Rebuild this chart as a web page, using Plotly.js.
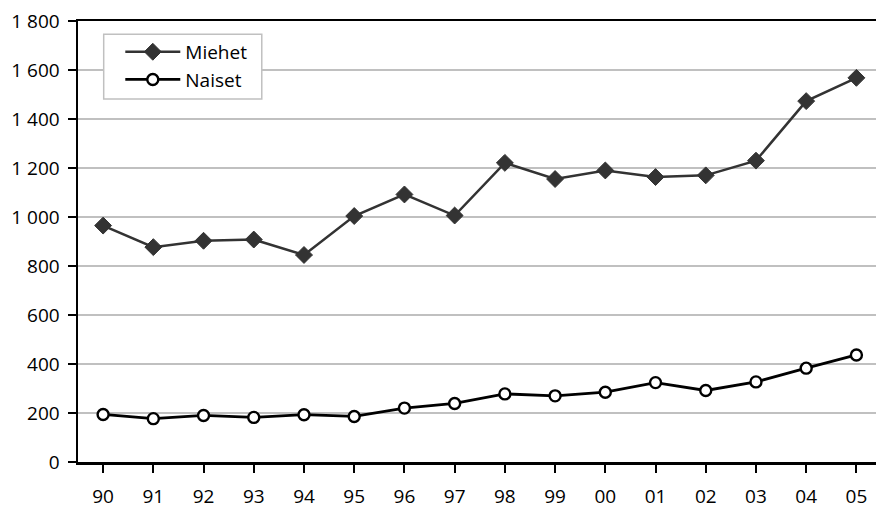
<!DOCTYPE html>
<html>
<head>
<meta charset="utf-8">
<script src="https://cdn.plot.ly/plotly-3.0.1.min.js"></script>
<style>
  html, body { margin: 0; padding: 0; background: #fff; }
  #chart { width: 876px; height: 508px; }
</style>
</head>
<body>
<div id="chart"></div>
<script>
const years = ["90","91","92","93","94","95","96","97","98","99","00","01","02","03","04","05"];
const miehet = [965, 877, 903, 908, 845, 1004, 1092, 1006, 1221, 1155, 1190, 1163, 1170, 1230, 1473, 1568];
const naiset = [194, 177, 190, 182, 193, 186, 220, 239, 278, 270, 285, 324, 292, 327, 383, 437];
const yTicks = [0, 200, 400, 600, 800, 1000, 1200, 1400, 1600, 1800];

const FONT = "Open Sans, Liberation Sans, sans-serif";
const FS = 19;
const xIdx = years.map((_, i) => i);

const traces = [
  {
    x: xIdx, y: miehet, name: "Miehet", type: "scatter", mode: "lines+markers",
    line: { color: "#333333", width: 2.5 },
    marker: { symbol: "diamond", size: 13, color: "#333333", line: { color: "#333333", width: 1 } }
  },
  {
    x: xIdx, y: naiset, name: "Naiset", type: "scatter", mode: "lines+markers",
    line: { color: "#000000", width: 2.8 },
    marker: { symbol: "circle", size: 11, color: "#ffffff", line: { color: "#000000", width: 2.4 } }
  }
];

const layout = {
  width: 876, height: 508,
  margin: { l: 78, r: 0, t: 21, b: 46, pad: 0 },
  paper_bgcolor: "#ffffff", plot_bgcolor: "#ffffff",
  separators: ", ",
  font: { family: FONT, size: FS, color: "#000000" },
  showlegend: true,
  legend: {
    x: 0.053, y: 0.973, xanchor: "left", yanchor: "top",
    bgcolor: "rgba(0,0,0,0)", borderwidth: 0,
    font: { family: FONT, size: FS, color: "#000000" },
    itemwidth: 55, tracegroupgap: 0
  },
  shapes: [{
    type: "rect", xref: "paper", yref: "paper", layer: "above",
    x0: 0.0322, x1: 0.2303, y0: 0.823, y1: 0.970,
    line: { color: "#c0c0c0", width: 1.5 }, fillcolor: "#ffffff"
  }],
  xaxis: {
    range: [-0.5, 15.39],
    tickmode: "array", tickvals: xIdx, ticktext: years,
    tickson: "boundaries",
    ticks: "outside", ticklen: 8, tickwidth: 2, tickcolor: "#000000",
    showline: true, linecolor: "#000000", linewidth: 2.5, mirror: true,
    showgrid: false, zeroline: false,
    ticklabelstandoff: 8,
    tickfont: { family: FONT, size: FS, color: "#000000" },
    fixedrange: true
  },
  yaxis: {
    range: [0, 1800],
    tickmode: "array", tickvals: yTicks, tickformat: ",d",
    ticks: "outside", ticklen: 8, tickwidth: 2, tickcolor: "#000000",
    showline: true, linecolor: "#000000", linewidth: 2.5,
    showgrid: true, gridcolor: "#c0c0c0", gridwidth: 1.5,
    zeroline: false,
    ticklabelstandoff: 4,
    tickfont: { family: FONT, size: FS, color: "#000000" },
    fixedrange: true
  }
};

Plotly.newPlot("chart", traces, layout, { staticPlot: true, displayModeBar: false });
</script>
</body>
</html>
